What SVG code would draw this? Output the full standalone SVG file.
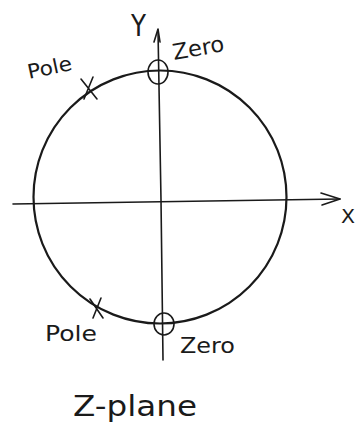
<svg xmlns="http://www.w3.org/2000/svg" width="361" height="425" viewBox="0 0 361 425">
<style>
.ln{fill:none;stroke:#1a1a1a;stroke-linecap:round;stroke-linejoin:round}
.t{font-family:"DejaVu Sans","Liberation Sans",sans-serif;fill:#1a1a1a}
</style>
<rect width="361" height="425" fill="#fff"/>
<g id="unit-circle">
<ellipse class="ln" cx="160" cy="197" rx="126.5" ry="126.5" stroke-width="2.2"/>
</g>
<g id="connectors">
<path class="ln" stroke-width="1.6" d="M13,204 L340,199"/>
<path class="ln" stroke-width="1.6" d="M321,193 L340,199 L322,205"/>
<path class="ln" stroke-width="1.6" d="M158,30 L161,200 L163,360"/>
<path class="ln" stroke-width="1.6" d="M154,42 L158,29 L160,42"/>
</g>
<g id="axis-y"><text class="t" x="131" y="36" font-size="30" textLength="15" lengthAdjust="spacingAndGlyphs">Y</text></g>
<g id="axis-x"><text class="t" x="341" y="223" font-size="20" textLength="14" lengthAdjust="spacingAndGlyphs">X</text></g>
<g id="zero-top">
<ellipse class="ln" cx="158" cy="72" rx="10" ry="12" stroke-width="1.6"/>
<text class="t" x="0" y="0" font-size="22" textLength="52" lengthAdjust="spacingAndGlyphs" transform="translate(174,60) rotate(-10)">Zero</text>
</g>
<g id="pole-top">
<path class="ln" stroke-width="1.6" d="M81,79 L97,99 M93,77 L84,99"/>
<text class="t" x="0" y="0" font-size="20" textLength="45" lengthAdjust="spacingAndGlyphs" transform="translate(29,79) rotate(-12)">Pole</text>
</g>
<g id="pole-bottom">
<path class="ln" stroke-width="1.6" d="M90,299 L103,318 M101,298 L93,318"/>
<text class="t" x="45" y="341" font-size="22" textLength="52" lengthAdjust="spacingAndGlyphs">Pole</text>
</g>
<g id="zero-bottom">
<ellipse class="ln" cx="164" cy="324" rx="10" ry="11" stroke-width="1.6"/>
<text class="t" x="180" y="353" font-size="22" textLength="55" lengthAdjust="spacingAndGlyphs">Zero</text>
</g>
<g id="title"><text class="t" x="73" y="416" font-size="28" textLength="124" lengthAdjust="spacingAndGlyphs">Z-plane</text></g>
</svg>
